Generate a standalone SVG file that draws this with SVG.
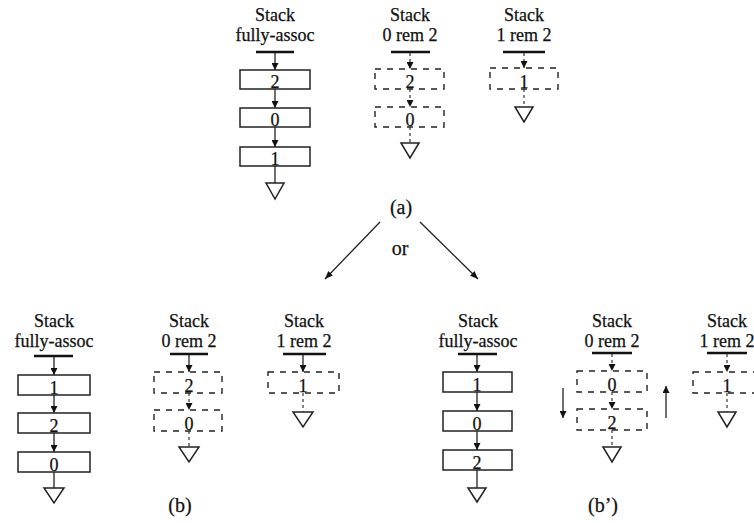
<svg xmlns="http://www.w3.org/2000/svg" width="754" height="523" viewBox="0 0 754 523">
  <defs>
    <style>
      .lbl { font-family: "Liberation Serif", "Times New Roman", serif; font-size: 18px; fill: #111; stroke: #111; stroke-width: 0.25; text-anchor: middle; }
      .cap { font-family: "Liberation Serif", "Times New Roman", serif; font-size: 20px; fill: #111; stroke: #111; stroke-width: 0.25; text-anchor: middle; }
      .bar { stroke: #111; stroke-width: 2.6; }
      .box { fill: none; stroke: #222; stroke-width: 1.5; }
      .dbox { fill: none; stroke: #222; stroke-width: 1.4; stroke-dasharray: 6 6; }
      .tri { fill: none; stroke: #222; stroke-width: 1.5; stroke-linejoin: miter; }
      .link { stroke: #222; stroke-width: 1.3; fill: none; }
      .dlink { stroke: #333; stroke-width: 1.2; fill: none; stroke-dasharray: 3 3; }
      .edge { stroke: #222; stroke-width: 1.3; fill: none; }
    </style>
    <marker id="head" viewBox="0 0 10 10" refX="10" refY="5" markerWidth="7" markerHeight="7" orient="auto" markerUnits="userSpaceOnUse">
      <path d="M0,0 L10,5 L0,10 Z" fill="#111"/>
    </marker>
    <marker id="ahead" viewBox="0 0 10 10" refX="10" refY="5" markerWidth="8" markerHeight="8" orient="auto" markerUnits="userSpaceOnUse">
      <path d="M0,1 L10,5 L0,9 Z" fill="#111"/>
    </marker>
  </defs>

  <!-- ===== (a) ===== -->
  <g id="a-fully-assoc">
    <text class="lbl" x="275" y="21">Stack</text>
    <text class="lbl" x="275" y="41">fully-assoc</text>
    <line class="bar" x1="256" y1="52" x2="294" y2="52"/>
    <rect class="box" x="240" y="70" width="70" height="19"/>
    <text class="lbl" x="275" y="88">2</text>
    <rect class="box" x="240" y="108" width="70" height="19"/>
    <text class="lbl" x="275" y="126">0</text>
    <rect class="box" x="240" y="147" width="70" height="19"/>
    <text class="lbl" x="275" y="165">1</text>
    <path class="tri" d="M266,183 L284,183 L275,199 Z"/>
  </g>

  <g id="a-0rem2">
    <text class="lbl" x="410" y="21">Stack</text>
    <text class="lbl" x="410" y="41">0 rem 2</text>
    <line class="bar" x1="391" y1="52" x2="430" y2="52"/>
    <rect class="dbox" x="375" y="69" width="69" height="20"/>
    <text class="lbl" x="410" y="88">2</text>
    <rect class="dbox" x="375" y="107" width="69" height="20"/>
    <text class="lbl" x="410" y="126">0</text>
    <path class="tri" d="M401,143 L419,143 L410,158 Z"/>
  </g>

  <g id="a-1rem2">
    <text class="lbl" x="524" y="21">Stack</text>
    <text class="lbl" x="524" y="41">1 rem 2</text>
    <line class="bar" x1="503" y1="52" x2="545" y2="52"/>
    <rect class="dbox" x="490" y="68" width="68" height="21"/>
    <text class="lbl" x="524" y="88">1</text>
    <path class="tri" d="M515,107 L533,107 L524,122 Z"/>
  </g>

  <text id="cap-a" class="cap" x="401" y="214">(a)</text>
  <text id="cap-or" class="cap" x="400" y="255">or</text>

  <!-- ===== (b) ===== -->
  <g id="b-fully-assoc">
    <text class="lbl" x="54" y="327">Stack</text>
    <text class="lbl" x="54" y="347">fully-assoc</text>
    <line class="bar" x1="34" y1="356" x2="73" y2="356"/>
    <rect class="box" x="18" y="375" width="72" height="20"/>
    <text class="lbl" x="54" y="394">1</text>
    <rect class="box" x="18" y="413" width="72" height="20"/>
    <text class="lbl" x="54" y="432">2</text>
    <rect class="box" x="18" y="452" width="72" height="20"/>
    <text class="lbl" x="54" y="471">0</text>
    <path class="tri" d="M44,488 L64,488 L54,503 Z"/>
  </g>

  <g id="b-0rem2">
    <text class="lbl" x="189" y="327">Stack</text>
    <text class="lbl" x="189" y="347">0 rem 2</text>
    <line class="bar" x1="170" y1="354" x2="208" y2="354"/>
    <rect class="dbox" x="154" y="372" width="68" height="21"/>
    <text class="lbl" x="189" y="392">2</text>
    <rect class="dbox" x="154" y="410" width="68" height="21"/>
    <text class="lbl" x="189" y="430">0</text>
    <path class="tri" d="M179,447 L199,447 L189,462 Z"/>
  </g>

  <g id="b-1rem2">
    <text class="lbl" x="304" y="327">Stack</text>
    <text class="lbl" x="304" y="347">1 rem 2</text>
    <line class="bar" x1="283" y1="354" x2="326" y2="354"/>
    <rect class="dbox" x="268" y="372" width="71" height="21"/>
    <text class="lbl" x="303" y="392">1</text>
    <path class="tri" d="M293,412 L313,412 L303,427 Z"/>
  </g>

  <text id="cap-b" class="cap" x="180" y="512">(b)</text>

  <!-- ===== (b') ===== -->
  <g id="bp-fully-assoc">
    <text class="lbl" x="478" y="327">Stack</text>
    <text class="lbl" x="478" y="347">fully-assoc</text>
    <line class="bar" x1="458" y1="354" x2="497" y2="354"/>
    <rect class="box" x="443" y="372" width="69" height="20"/>
    <text class="lbl" x="477" y="391">1</text>
    <rect class="box" x="443" y="411" width="69" height="20"/>
    <text class="lbl" x="477" y="430">0</text>
    <rect class="box" x="443" y="450" width="69" height="20"/>
    <text class="lbl" x="477" y="469">2</text>
    <path class="tri" d="M468,488 L486,488 L477,502 Z"/>
  </g>

  <g id="bp-0rem2">
    <text class="lbl" x="612" y="327">Stack</text>
    <text class="lbl" x="612" y="347">0 rem 2</text>
    <line class="bar" x1="592" y1="353" x2="632" y2="353"/>
    <rect class="dbox" x="577" y="371" width="70" height="21"/>
    <text class="lbl" x="612" y="391">0</text>
    <rect class="dbox" x="577" y="409" width="70" height="21"/>
    <text class="lbl" x="612" y="429">2</text>
    <path class="tri" d="M603,447 L621,447 L612,462 Z"/>
  </g>

  <g id="bp-1rem2">
    <text class="lbl" x="727" y="327">Stack</text>
    <text class="lbl" x="727" y="347">1 rem 2</text>
    <line class="bar" x1="707" y1="353" x2="747" y2="353"/>
    <rect class="dbox" x="693" y="372" width="70" height="21"/>
    <text class="lbl" x="727" y="392">1</text>
    <path class="tri" d="M718,412 L736,412 L727,427 Z"/>
  </g>

  <text id="cap-bp" class="cap" x="603" y="512">(b’)</text>

  <!-- ===== connectors ===== -->
  <g id="connectors">
    <!-- (a) fully-assoc chain -->
    <line class="link" x1="275" y1="53" x2="275" y2="70" marker-end="url(#head)"/>
    <line class="link" x1="275" y1="89" x2="275" y2="108" marker-end="url(#head)"/>
    <line class="link" x1="275" y1="127" x2="275" y2="147" marker-end="url(#head)"/>
    <line class="link" x1="275" y1="166" x2="275" y2="183"/>
    <!-- (a) 0 rem 2 chain -->
    <line class="dlink" x1="410" y1="53" x2="410" y2="69" marker-end="url(#head)"/>
    <line class="dlink" x1="410" y1="89" x2="410" y2="107" marker-end="url(#head)"/>
    <line class="dlink" x1="410" y1="127" x2="410" y2="143"/>
    <!-- (a) 1 rem 2 chain -->
    <line class="dlink" x1="524" y1="53" x2="524" y2="68" marker-end="url(#head)"/>
    <line class="dlink" x1="524" y1="89" x2="524" y2="107"/>

    <!-- branch arrows -->
    <line class="edge" x1="380" y1="222" x2="325" y2="279" marker-end="url(#ahead)"/>
    <line class="edge" x1="420" y1="222" x2="478" y2="279" marker-end="url(#ahead)"/>

    <!-- (b) fully-assoc chain -->
    <line class="link" x1="54" y1="357" x2="54" y2="375" marker-end="url(#head)"/>
    <line class="link" x1="54" y1="395" x2="54" y2="413" marker-end="url(#head)"/>
    <line class="link" x1="54" y1="433" x2="54" y2="452" marker-end="url(#head)"/>
    <line class="link" x1="54" y1="472" x2="54" y2="488"/>
    <!-- (b) 0 rem 2 chain -->
    <line class="link" x1="189" y1="355" x2="189" y2="372" marker-end="url(#head)"/>
    <line class="dlink" x1="189" y1="393" x2="189" y2="410" marker-end="url(#head)"/>
    <line class="dlink" x1="189" y1="431" x2="189" y2="447"/>
    <!-- (b) 1 rem 2 chain -->
    <line class="link" x1="303" y1="355" x2="303" y2="372" marker-end="url(#head)"/>
    <line class="dlink" x1="303" y1="393" x2="303" y2="412"/>

    <!-- (b') fully-assoc chain -->
    <line class="link" x1="477" y1="355" x2="477" y2="372" marker-end="url(#head)"/>
    <line class="link" x1="477" y1="392" x2="477" y2="411" marker-end="url(#head)"/>
    <line class="link" x1="477" y1="431" x2="477" y2="450" marker-end="url(#head)"/>
    <line class="link" x1="477" y1="470" x2="477" y2="488"/>
    <!-- (b') 0 rem 2 chain -->
    <line class="dlink" x1="612" y1="354" x2="612" y2="371" marker-end="url(#head)"/>
    <line class="dlink" x1="612" y1="392" x2="612" y2="409" marker-end="url(#head)"/>
    <line class="dlink" x1="612" y1="430" x2="612" y2="447"/>
    <!-- (b') 1 rem 2 chain -->
    <line class="dlink" x1="727" y1="354" x2="727" y2="372" marker-end="url(#head)"/>
    <line class="dlink" x1="727" y1="393" x2="727" y2="412"/>
    <!-- reorder arrows -->
    <line class="edge" x1="563" y1="388" x2="563" y2="418" marker-end="url(#head)"/>
    <line class="edge" x1="666" y1="418" x2="666" y2="386" marker-end="url(#head)"/>
  </g>
</svg>
